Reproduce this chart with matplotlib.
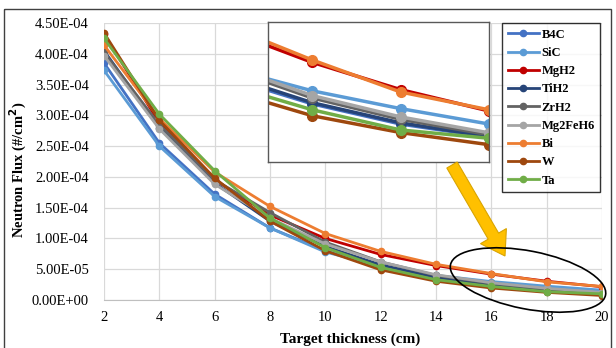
"""
Neutron flux vs. target thickness for nine target materials, with a zoomed inset.
"""

import matplotlib
matplotlib.use("Agg")
import matplotlib.pyplot as plt
from matplotlib.patches import Ellipse, FancyArrow, Rectangle
from matplotlib.ticker import FuncFormatter, MultipleLocator

thickness = [2, 4, 6, 8, 10, 12, 14, 16, 18, 20]

materials = ["B4C", "SiC", "MgH2", "TiH2", "ZrH2", "Mg2FeH6", "Bi", "W", "Ta"]

b4c = [3.85e-4, 2.55e-4, 1.72e-4, 1.17e-4, 0.80e-4, 0.53e-4, 0.36e-4, 0.245e-4, 0.16e-4, 0.105e-4]
sic = [3.73e-4, 2.50e-4, 1.68e-4, 1.17e-4, 0.78e-4, 0.55e-4, 0.40e-4, 0.30e-4, 0.225e-4, 0.16e-4]
mgh2 = [4.32e-4, 2.88e-4, 1.95e-4, 1.38e-4, 1.00e-4, 0.74e-4, 0.56e-4, 0.42e-4, 0.305e-4, 0.215e-4]
tih2 = [4.05e-4, 2.80e-4, 1.90e-4, 1.28e-4, 0.87e-4, 0.57e-4, 0.37e-4, 0.25e-4, 0.165e-4, 0.107e-4]
zrh2 = [4.02e-4, 2.85e-4, 1.95e-4, 1.42e-4, 0.94e-4, 0.62e-4, 0.40e-4, 0.27e-4, 0.18e-4, 0.115e-4]
mg2feh6 = [3.97e-4, 2.78e-4, 1.88e-4, 1.33e-4, 0.91e-4, 0.62e-4, 0.41e-4, 0.28e-4, 0.19e-4, 0.123e-4]
bi = [4.14e-4, 2.95e-4, 2.08e-4, 1.52e-4, 1.08e-4, 0.79e-4, 0.58e-4, 0.43e-4, 0.295e-4, 0.22e-4]
w = [4.34e-4, 2.92e-4, 1.98e-4, 1.28e-4, 0.80e-4, 0.49e-4, 0.305e-4, 0.195e-4, 0.124e-4, 0.073e-4]
ta = [4.25e-4, 3.02e-4, 2.10e-4, 1.33e-4, 0.85e-4, 0.53e-4, 0.33e-4, 0.22e-4, 0.135e-4, 0.10e-4]

series = [b4c, sic, mgh2, tih2, zrh2, mg2feh6, bi, w, ta]
colors = ["#4472C4", "#5B9BD5", "#C00000", "#264478", "#636363",
          "#A5A5A5", "#ED7D31", "#9E480E", "#70AD47"]

W_PX, H_PX = 616, 348
plt.rcParams["font.family"] = ["Liberation Serif", "DejaVu Serif"]

fig = plt.figure(figsize=(W_PX / 100, H_PX / 100), dpi=100)

# main axes (pixel box 104..602 x, 23..300 y)
ax = fig.add_axes([104 / W_PX, 1 - 300 / H_PX, 498 / W_PX, 277 / H_PX])
for vals, c, name in zip(series, colors, materials):
    ax.plot(thickness, vals, color=c, lw=2, marker="o", ms=4.5, label=name)

ax.set_xlim(2, 20)
ax.set_ylim(0, 4.5e-4)
ax.xaxis.set_major_locator(MultipleLocator(2))
ax.yaxis.set_major_locator(MultipleLocator(5e-5))
ax.yaxis.set_major_formatter(FuncFormatter(lambda v, p: f"{v:.2E}"))
ax.grid(True, color="#D9D9D9", lw=0.9)
ax.set_axisbelow(True)
for s in ["top", "right", "left"]:
    ax.spines[s].set_visible(False)
ax.spines["bottom"].set_color("#BFBFBF")
ax.tick_params(axis="both", length=0, labelsize=10.5, colors="black")
ax.tick_params(axis="y", pad=11)
ax.tick_params(axis="x", pad=8)

fig.text(18 / W_PX, 1 - 170 / H_PX, "Neutron Flux (#/cm$^\\mathbf{2}$)",
         rotation=90, ha="center", va="center", fontsize=10.5, fontweight="bold")
fig.text(350 / W_PX, 1 - 339 / H_PX, "Target thickness (cm)",
         ha="center", va="center", fontsize=11, fontweight="bold")

leg = ax.legend(loc="upper left", bbox_to_anchor=(502 / W_PX, 1 - 23 / H_PX),
                bbox_transform=fig.transFigure, frameon=True, fancybox=False,
                prop={"weight": "bold", "size": 9}, handlelength=2.5,
                handletextpad=0.2, labelspacing=0.5, borderpad=0.45,
                borderaxespad=0)
leg.get_frame().set_edgecolor("black")
leg.get_frame().set_linewidth(1)
leg.set_zorder(10)

# zoomed inset (pixel box 268..489 x, 22..162 y)
ins = fig.add_axes([268 / W_PX, 1 - 162 / H_PX, 221 / W_PX, 140 / H_PX])
for vals, c in zip(series, colors):
    ins.plot(thickness, vals, color=c, lw=2.5, marker="o", ms=7)
ins.set_xlim(15, 20)
ins.set_ylim(0.0, 5.9e-5)
ins.set_xticks([])
ins.set_yticks([])
for s in ins.spines.values():
    s.set_color("#595959")
    s.set_linewidth(1)
ins.set_zorder(5)

# overlay for arrow, ellipse and the outer frame
ov = fig.add_axes([0, 0, 1, 1])
ov.set_xlim(0, W_PX)
ov.set_ylim(H_PX, 0)
ov.axis("off")
ov.set_zorder(20)
ov.add_patch(FancyArrow(452, 165, 53, 91, width=12, head_width=30, head_length=23,
                        length_includes_head=True, fc="#FFC000", ec="#D9A400", lw=0.8))
ov.add_patch(Ellipse((528, 280), 158, 58, angle=11, fill=False, ec="black", lw=1.2))
ov.add_patch(Rectangle((4, 9), 607, 345, fill=False, ec="#404040", lw=1))

fig.savefig("out.png", dpi=100)
